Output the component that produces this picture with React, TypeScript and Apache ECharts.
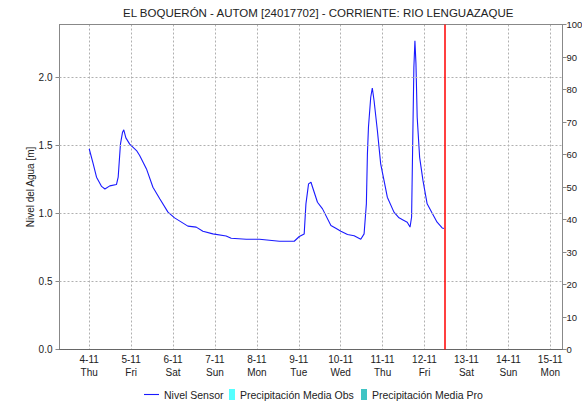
import React, { useEffect, useRef } from "react";
import * as echarts from "echarts";

const titleText = "EL BOQUERÓN - AUTOM [24017702] - CORRIENTE: RIO LENGUAZAQUE";
const dayLabels = ["4-11", "5-11", "6-11", "7-11", "8-11", "9-11", "10-11", "11-11", "12-11", "13-11", "14-11", "15-11"];
const weekdays = ["Thu", "Fri", "Sat", "Sun", "Mon", "Tue", "Wed", "Thu", "Fri", "Sat", "Sun", "Mon"];
const levelGrid = [0.5, 1.0, 1.5, 2.0];

// hours since 4-11 00:00
const hours = [0, 2.3, 4.2, 7.1, 9.0, 11.8, 15.6, 16.6, 17.9, 19.1, 19.8, 21.0, 23.2, 27.1, 28.9, 32.8, 36.5, 40.4, 45.1, 48.9,
  56.5, 61.3, 65.1, 70.8, 78.4, 81.3, 89.9, 97.5, 108.9, 117.4, 120.3, 123.1, 124.1, 125.6, 127.0, 127.9, 130.7, 133.6, 138.4, 141.2,
  144.1, 147.9, 151.7, 155.5, 157.4, 158.7, 159.3, 159.9, 161.2, 162.1, 163.1, 165.0, 166.9, 168.8, 170.7, 174.5, 177.4, 180.2, 182.1, 183.7,
  184.6, 185.4, 185.9, 186.5, 187.1, 187.8, 189.2, 191.1, 193.5, 196.4, 199.2, 202.1, 203.1];
const levels = [1.476, 1.365, 1.267, 1.199, 1.18, 1.203, 1.213, 1.267, 1.51, 1.598, 1.615, 1.556, 1.51, 1.463, 1.426, 1.328, 1.193, 1.108, 1.01, 0.968,
  0.907, 0.9, 0.87, 0.85, 0.835, 0.818, 0.811, 0.811, 0.796, 0.796, 0.831, 0.85, 1.071, 1.218, 1.23, 1.193, 1.083, 1.034, 0.912, 0.892,
  0.87, 0.846, 0.836, 0.811, 0.85, 1.071, 1.438, 1.634, 1.855, 1.923, 1.831, 1.61, 1.365, 1.243, 1.12, 1.01, 0.968, 0.949, 0.936, 0.9,
  0.974, 1.66, 2.076, 2.27, 2.10, 1.708, 1.413, 1.243, 1.071, 1.002, 0.936, 0.894, 0.89];
const precipObs: number[][] = [];
const precipPro: number[][] = [];
const nowHour = 203.6;
const xMin = -17;
const xMax = 271;
const levelMax = 2.3897;

const FONT = "Liberation Sans, Arial, sans-serif";
const NARROW = "Liberation Sans Narrow, Arial Narrow, Liberation Sans, sans-serif";
const GRID = { color: "#b0b0b0", type: [2, 2], width: 1 };

export default function App() {
  const ref = useRef<HTMLDivElement>(null);
  useEffect(() => {
    if (!ref.current) return;
    const chart = echarts.init(ref.current, null, { renderer: "svg" });
    const tickVals = dayLabels.map((_, i) => i * 24);
    const legendBase = {
      top: 389,
      orient: "horizontal",
      itemHeight: 11,
      textStyle: { fontFamily: FONT, fontSize: 10.5, color: "#222" },
      selectedMode: false,
      padding: 0,
    };
    chart.setOption({
      animation: false,
      backgroundColor: "#fff",
      title: {
        text: titleText,
        left: 123,
        top: 7,
        padding: 0,
        textStyle: { fontFamily: NARROW, fontSize: 11.5, fontWeight: "normal", color: "#222" },
      },
      legend: [
        { ...legendBase, left: 144, itemWidth: 15, data: [{ name: "Nivel Sensor", icon: "path://M0,0H15V1.1H0Z" }] },
        { ...legendBase, left: 229, itemWidth: 6, data: [{ name: "Precipitación Media Obs", icon: "rect" }] },
        { ...legendBase, left: 361, itemWidth: 6, data: [{ name: "Precipitación Media Pro", icon: "rect" }] },
      ],
      grid: { left: 59.5, right: 19.5, top: 24.5, bottom: 54.5, containLabel: false, outerBoundsMode: "none" },
      xAxis: [
        {
          type: "value",
          min: xMin,
          max: xMax,
          position: "bottom",
          axisLine: { show: true, onZero: false, lineStyle: { color: "#555", type: [1, 1], width: 1 } },
          axisTick: { show: false, customValues: tickVals },
          axisLabel: {
            customValues: tickVals,
            formatter: (v: number) => {
              const i = Math.round(v / 24);
              return dayLabels[i] + "\n" + weekdays[i];
            },
            fontFamily: FONT,
            fontSize: 10,
            lineHeight: 13,
            color: "#222",
            margin: 3,
          },
          splitLine: { show: true, lineStyle: GRID },
        },
        {
          type: "value",
          min: xMin,
          max: xMax,
          position: "top",
          axisLine: { show: true, onZero: false, lineStyle: { color: "#888", width: 1 } },
          axisTick: { show: false },
          axisLabel: { show: false },
          splitLine: { show: false },
        },
      ],
      yAxis: [
        {
          type: "value",
          min: 0,
          max: levelMax,
          interval: 0.5,
          position: "left",
          name: "Nivel del Agua [m]",
          nameLocation: "middle",
          nameGap: 24,
          nameMoveOverlap: false,
          nameTextStyle: { fontFamily: FONT, fontSize: 10, color: "#222" },
          axisLine: { show: true, onZero: false, lineStyle: { color: "#888", width: 1 } },
          axisTick: { show: true, length: 4, lineStyle: { color: "#888" } },
          axisLabel: {
            showMaxLabel: false,
            formatter: (v: number) => v.toFixed(1),
            fontFamily: FONT,
            fontSize: 10,
            color: "#222",
            margin: 7,
          },
          splitLine: { show: false },
        },
        {
          type: "value",
          min: 0,
          max: 100,
          interval: 10,
          position: "right",
          axisLine: { show: true, onZero: false, lineStyle: { color: "#888", width: 1 } },
          axisTick: { show: true, length: 4, lineStyle: { color: "#888" } },
          axisLabel: { fontFamily: NARROW, fontSize: 9.5, color: "#222", margin: 4 },
          splitLine: { show: false },
        },
      ],
      series: [
        {
          name: "Nivel Sensor",
          type: "line",
          xAxisIndex: 0,
          yAxisIndex: 0,
          z: 3,
          data: hours.map((h, i) => [h, levels[i]]),
          showSymbol: false,
          symbol: "none",
          lineStyle: { color: "#1a1aff", width: 1.1 },
          itemStyle: { color: "#1a1aff" },
          markLine: {
            silent: true,
            symbol: "none",
            label: { show: false },
            data: [
              ...levelGrid.map((v) => ({ yAxis: v, lineStyle: GRID })),
              { xAxis: nowHour, lineStyle: { color: "#ff0000", type: "solid", width: 1.5 } },
            ],
          },
        },
        {
          name: "Precipitación Media Obs",
          type: "bar",
          xAxisIndex: 0,
          yAxisIndex: 1,
          data: precipObs,
          itemStyle: { color: "#55ffff" },
        },
        {
          name: "Precipitación Media Pro",
          type: "bar",
          xAxisIndex: 0,
          yAxisIndex: 1,
          data: precipPro,
          itemStyle: { color: "#40c4c4" },
        },
      ],
    });
    return () => chart.dispose();
  }, []);
  return (
    <div
      ref={ref}
      style={{ position: "fixed", left: 0, top: 0, width: 582, height: 404, background: "#fff" }}
    />
  );
}
